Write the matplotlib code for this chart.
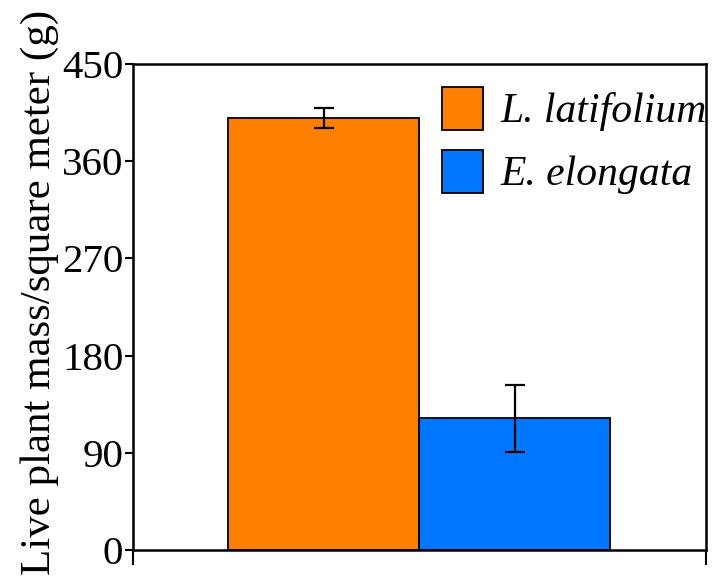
import numpy as np
import matplotlib
matplotlib.use('Agg')
import matplotlib.pyplot as plt
from matplotlib.patches import Patch

species = ['L. latifolium', 'E. elongata']
mass = [400, 122]
err = [9, 31]
colours = ['#FF8000', '#0077FF']
yticks = [0, 90, 180, 270, 360, 450]

plt.rcParams['font.family'] = ['Liberation Serif', 'DejaVu Serif']

fig = plt.figure(figsize=(7.13, 5.76), dpi=100)
ax = fig.add_axes([0.1865, 0.045, 0.8035, 0.844])

x = np.arange(len(species))
ax.bar(x, mass, width=1.0, color=colours, edgecolor='black', linewidth=1.3,
       yerr=err, error_kw=dict(ecolor='black', elinewidth=1.6, capsize=7, capthick=1.6))

ax.set_xlim(-1, 2)
ax.set_ylim(0, 450)
ax.set_yticks(yticks)
ax.set_yticklabels([str(t) for t in yticks], fontsize=29.5)
ax.set_xticks([-1, 2])
ax.set_xticklabels([])
ax.tick_params(axis='y', direction='out', length=6, width=1.5, pad=1)
ax.tick_params(axis='x', direction='out', length=11, width=1.5)
for s in ax.spines.values():
    s.set_linewidth(1.8)

ax.set_ylabel('Live plant mass/square meter (g)', fontsize=31, labelpad=2)
ax.yaxis.label.set_y(0.531)

handles = [Patch(facecolor=c, edgecolor='black', linewidth=1.3) for c in colours]
leg = ax.legend(handles, species, loc='upper left', bbox_to_anchor=(0.5, 1.0),
                frameon=False, prop=dict(style='italic', size=30),
                handlelength=0.98, handleheight=1.2, handletextpad=0.42,
                labelspacing=0.45, borderaxespad=0.25, borderpad=0.3)

fig.savefig('out.png', dpi=100)
